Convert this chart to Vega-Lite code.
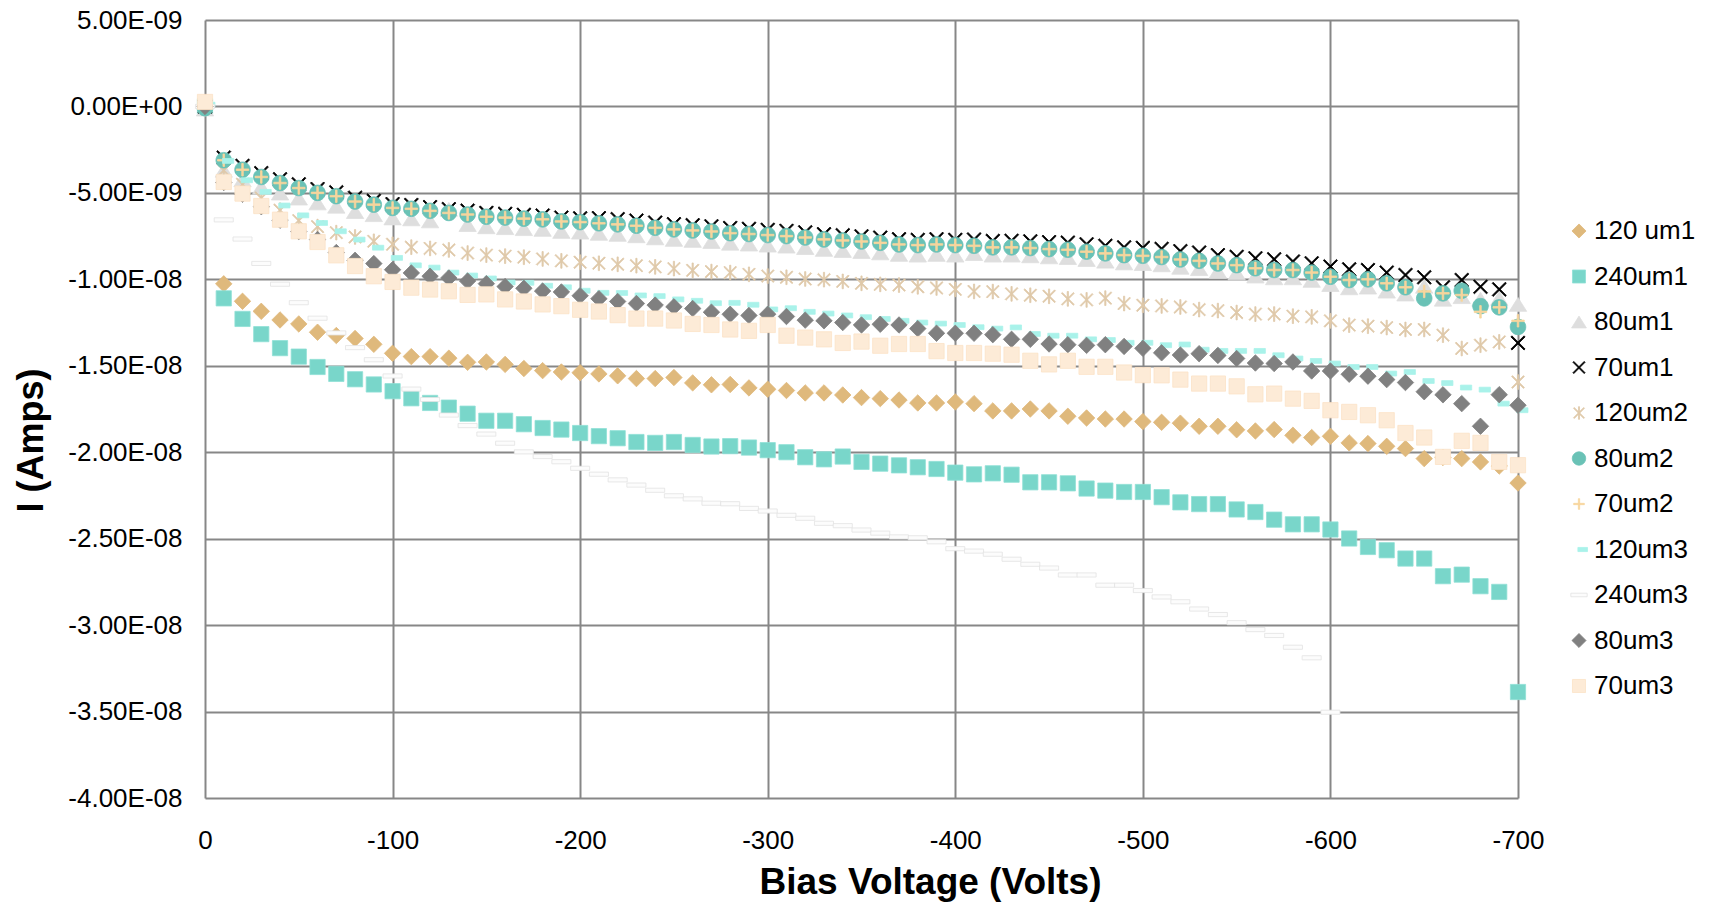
{
"$schema": "https://vega.github.io/schema/vega-lite/v6.json",
"width": 1313, "height": 778,
"autosize": {"type": "none"},
"padding": {"left": 205, "top": 20, "right": 195, "bottom": 104},
"background": "white",
"config": {"view": {"stroke": null}, "font": "Liberation Sans"},
"data": {"values": [
{"s":"120 um1","V":0,"I":0},{"s":"120 um1","V":-10,"I":-10.26e-9},{"s":"120 um1","V":-20,"I":-11.27e-9},{"s":"120 um1","V":-30,"I":-11.85e-9},{"s":"120 um1","V":-40,"I":-12.35e-9},{"s":"120 um1","V":-50,"I":-12.58e-9},{"s":"120 um1","V":-60,"I":-13.06e-9},{"s":"120 um1","V":-70,"I":-13.25e-9},{"s":"120 um1","V":-80,"I":-13.42e-9},{"s":"120 um1","V":-90,"I":-13.76e-9},{"s":"120 um1","V":-100,"I":-14.28e-9},{"s":"120 um1","V":-110,"I":-14.47e-9},{"s":"120 um1","V":-120,"I":-14.47e-9},{"s":"120 um1","V":-130,"I":-14.56e-9},{"s":"120 um1","V":-140,"I":-14.8e-9},{"s":"120 um1","V":-150,"I":-14.78e-9},{"s":"120 um1","V":-160,"I":-14.92e-9},{"s":"120 um1","V":-170,"I":-15.16e-9},{"s":"120 um1","V":-180,"I":-15.28e-9},{"s":"120 um1","V":-190,"I":-15.36e-9},{"s":"120 um1","V":-200,"I":-15.4e-9},{"s":"120 um1","V":-210,"I":-15.47e-9},{"s":"120 um1","V":-220,"I":-15.58e-9},{"s":"120 um1","V":-230,"I":-15.74e-9},{"s":"120 um1","V":-240,"I":-15.74e-9},{"s":"120 um1","V":-250,"I":-15.68e-9},{"s":"120 um1","V":-260,"I":-15.99e-9},{"s":"120 um1","V":-270,"I":-16.1e-9},{"s":"120 um1","V":-280,"I":-16.08e-9},{"s":"120 um1","V":-290,"I":-16.28e-9},{"s":"120 um1","V":-300,"I":-16.36e-9},{"s":"120 um1","V":-310,"I":-16.43e-9},{"s":"120 um1","V":-320,"I":-16.57e-9},{"s":"120 um1","V":-330,"I":-16.57e-9},{"s":"120 um1","V":-340,"I":-16.69e-9},{"s":"120 um1","V":-350,"I":-16.84e-9},{"s":"120 um1","V":-360,"I":-16.9e-9},{"s":"120 um1","V":-370,"I":-16.98e-9},{"s":"120 um1","V":-380,"I":-17.15e-9},{"s":"120 um1","V":-390,"I":-17.15e-9},{"s":"120 um1","V":-400,"I":-17.09e-9},{"s":"120 um1","V":-410,"I":-17.19e-9},{"s":"120 um1","V":-420,"I":-17.61e-9},{"s":"120 um1","V":-430,"I":-17.61e-9},{"s":"120 um1","V":-440,"I":-17.5e-9},{"s":"120 um1","V":-450,"I":-17.61e-9},{"s":"120 um1","V":-460,"I":-17.92e-9},{"s":"120 um1","V":-470,"I":-18.02e-9},{"s":"120 um1","V":-480,"I":-18.08e-9},{"s":"120 um1","V":-490,"I":-18.08e-9},{"s":"120 um1","V":-500,"I":-18.23e-9},{"s":"120 um1","V":-510,"I":-18.27e-9},{"s":"120 um1","V":-520,"I":-18.32e-9},{"s":"120 um1","V":-530,"I":-18.5e-9},{"s":"120 um1","V":-540,"I":-18.5e-9},{"s":"120 um1","V":-550,"I":-18.7e-9},{"s":"120 um1","V":-560,"I":-18.77e-9},{"s":"120 um1","V":-570,"I":-18.69e-9},{"s":"120 um1","V":-580,"I":-19.02e-9},{"s":"120 um1","V":-590,"I":-19.15e-9},{"s":"120 um1","V":-600,"I":-19.08e-9},{"s":"120 um1","V":-610,"I":-19.46e-9},{"s":"120 um1","V":-620,"I":-19.5e-9},{"s":"120 um1","V":-630,"I":-19.66e-9},{"s":"120 um1","V":-640,"I":-19.79e-9},{"s":"120 um1","V":-650,"I":-20.37e-9},{"s":"120 um1","V":-660,"I":-20.3e-9},{"s":"120 um1","V":-670,"I":-20.37e-9},{"s":"120 um1","V":-680,"I":-20.56e-9},{"s":"120 um1","V":-690,"I":-20.8e-9},{"s":"120 um1","V":-700,"I":-21.78e-9},
{"s":"240um1","V":0,"I":0},{"s":"240um1","V":-10,"I":-11.1e-9},{"s":"240um1","V":-20,"I":-12.29e-9},{"s":"240um1","V":-30,"I":-13.17e-9},{"s":"240um1","V":-40,"I":-13.98e-9},{"s":"240um1","V":-50,"I":-14.47e-9},{"s":"240um1","V":-60,"I":-15.07e-9},{"s":"240um1","V":-70,"I":-15.47e-9},{"s":"240um1","V":-80,"I":-15.78e-9},{"s":"240um1","V":-90,"I":-16.08e-9},{"s":"240um1","V":-100,"I":-16.47e-9},{"s":"240um1","V":-110,"I":-16.88e-9},{"s":"240um1","V":-120,"I":-17.15e-9},{"s":"240um1","V":-130,"I":-17.42e-9},{"s":"240um1","V":-140,"I":-17.77e-9},{"s":"240um1","V":-150,"I":-18.18e-9},{"s":"240um1","V":-160,"I":-18.18e-9},{"s":"240um1","V":-170,"I":-18.38e-9},{"s":"240um1","V":-180,"I":-18.6e-9},{"s":"240um1","V":-190,"I":-18.69e-9},{"s":"240um1","V":-200,"I":-18.89e-9},{"s":"240um1","V":-210,"I":-19.07e-9},{"s":"240um1","V":-220,"I":-19.19e-9},{"s":"240um1","V":-230,"I":-19.41e-9},{"s":"240um1","V":-240,"I":-19.46e-9},{"s":"240um1","V":-250,"I":-19.41e-9},{"s":"240um1","V":-260,"I":-19.58e-9},{"s":"240um1","V":-270,"I":-19.67e-9},{"s":"240um1","V":-280,"I":-19.65e-9},{"s":"240um1","V":-290,"I":-19.73e-9},{"s":"240um1","V":-300,"I":-19.88e-9},{"s":"240um1","V":-310,"I":-20.0e-9},{"s":"240um1","V":-320,"I":-20.29e-9},{"s":"240um1","V":-330,"I":-20.41e-9},{"s":"240um1","V":-340,"I":-20.25e-9},{"s":"240um1","V":-350,"I":-20.56e-9},{"s":"240um1","V":-360,"I":-20.66e-9},{"s":"240um1","V":-370,"I":-20.76e-9},{"s":"240um1","V":-380,"I":-20.87e-9},{"s":"240um1","V":-390,"I":-20.97e-9},{"s":"240um1","V":-400,"I":-21.18e-9},{"s":"240um1","V":-410,"I":-21.28e-9},{"s":"240um1","V":-420,"I":-21.22e-9},{"s":"240um1","V":-430,"I":-21.3e-9},{"s":"240um1","V":-440,"I":-21.74e-9},{"s":"240um1","V":-450,"I":-21.74e-9},{"s":"240um1","V":-460,"I":-21.8e-9},{"s":"240um1","V":-470,"I":-22.1e-9},{"s":"240um1","V":-480,"I":-22.22e-9},{"s":"240um1","V":-490,"I":-22.3e-9},{"s":"240um1","V":-500,"I":-22.3e-9},{"s":"240um1","V":-510,"I":-22.6e-9},{"s":"240um1","V":-520,"I":-22.9e-9},{"s":"240um1","V":-530,"I":-23.0e-9},{"s":"240um1","V":-540,"I":-23.0e-9},{"s":"240um1","V":-550,"I":-23.31e-9},{"s":"240um1","V":-560,"I":-23.46e-9},{"s":"240um1","V":-570,"I":-23.9e-9},{"s":"240um1","V":-580,"I":-24.17e-9},{"s":"240um1","V":-590,"I":-24.17e-9},{"s":"240um1","V":-600,"I":-24.47e-9},{"s":"240um1","V":-610,"I":-24.99e-9},{"s":"240um1","V":-620,"I":-25.48e-9},{"s":"240um1","V":-630,"I":-25.67e-9},{"s":"240um1","V":-640,"I":-26.15e-9},{"s":"240um1","V":-650,"I":-26.15e-9},{"s":"240um1","V":-660,"I":-27.17e-9},{"s":"240um1","V":-670,"I":-27.08e-9},{"s":"240um1","V":-680,"I":-27.75e-9},{"s":"240um1","V":-690,"I":-28.08e-9},{"s":"240um1","V":-700,"I":-33.87e-9},
{"s":"80um1","V":0,"I":-0.15e-9},{"s":"80um1","V":-10,"I":-3.69e-9},{"s":"80um1","V":-20,"I":-4.24e-9},{"s":"80um1","V":-30,"I":-4.66e-9},{"s":"80um1","V":-40,"I":-5.01e-9},{"s":"80um1","V":-50,"I":-5.3e-9},{"s":"80um1","V":-60,"I":-5.58e-9},{"s":"80um1","V":-70,"I":-5.77e-9},{"s":"80um1","V":-80,"I":-6.08e-9},{"s":"80um1","V":-90,"I":-6.26e-9},{"s":"80um1","V":-100,"I":-6.45e-9},{"s":"80um1","V":-110,"I":-6.5e-9},{"s":"80um1","V":-120,"I":-6.62e-9},{"s":"80um1","V":-130,"I":-5.95e-9},{"s":"80um1","V":-140,"I":-6.83e-9},{"s":"80um1","V":-150,"I":-6.96e-9},{"s":"80um1","V":-160,"I":-7.01e-9},{"s":"80um1","V":-170,"I":-7.07e-9},{"s":"80um1","V":-180,"I":-7.11e-9},{"s":"80um1","V":-190,"I":-7.23e-9},{"s":"80um1","V":-200,"I":-7.27e-9},{"s":"80um1","V":-210,"I":-7.34e-9},{"s":"80um1","V":-220,"I":-7.4e-9},{"s":"80um1","V":-230,"I":-7.48e-9},{"s":"80um1","V":-240,"I":-7.6e-9},{"s":"80um1","V":-250,"I":-7.69e-9},{"s":"80um1","V":-260,"I":-7.75e-9},{"s":"80um1","V":-270,"I":-7.81e-9},{"s":"80um1","V":-280,"I":-7.91e-9},{"s":"80um1","V":-290,"I":-7.96e-9},{"s":"80um1","V":-300,"I":-8.02e-9},{"s":"80um1","V":-310,"I":-8.08e-9},{"s":"80um1","V":-320,"I":-8.16e-9},{"s":"80um1","V":-330,"I":-8.27e-9},{"s":"80um1","V":-340,"I":-8.33e-9},{"s":"80um1","V":-350,"I":-8.39e-9},{"s":"80um1","V":-360,"I":-8.47e-9},{"s":"80um1","V":-370,"I":-8.56e-9},{"s":"80um1","V":-380,"I":-8.6e-9},{"s":"80um1","V":-390,"I":-8.56e-9},{"s":"80um1","V":-400,"I":-8.6e-9},{"s":"80um1","V":-410,"I":-8.51e-9},{"s":"80um1","V":-420,"I":-8.6e-9},{"s":"80um1","V":-430,"I":-8.6e-9},{"s":"80um1","V":-440,"I":-8.64e-9},{"s":"80um1","V":-450,"I":-8.7e-9},{"s":"80um1","V":-460,"I":-8.74e-9},{"s":"80um1","V":-470,"I":-8.85e-9},{"s":"80um1","V":-480,"I":-8.95e-9},{"s":"80um1","V":-490,"I":-9.05e-9},{"s":"80um1","V":-500,"I":-9.09e-9},{"s":"80um1","V":-510,"I":-9.16e-9},{"s":"80um1","V":-520,"I":-9.3e-9},{"s":"80um1","V":-530,"I":-9.38e-9},{"s":"80um1","V":-540,"I":-9.53e-9},{"s":"80um1","V":-550,"I":-9.63e-9},{"s":"80um1","V":-560,"I":-9.81e-9},{"s":"80um1","V":-570,"I":-9.91e-9},{"s":"80um1","V":-580,"I":-9.91e-9},{"s":"80um1","V":-590,"I":-10.06e-9},{"s":"80um1","V":-600,"I":-10.3e-9},{"s":"80um1","V":-610,"I":-10.49e-9},{"s":"80um1","V":-620,"I":-10.45e-9},{"s":"80um1","V":-630,"I":-10.68e-9},{"s":"80um1","V":-640,"I":-10.85e-9},{"s":"80um1","V":-650,"I":-10.4e-9},{"s":"80um1","V":-660,"I":-11.15e-9},{"s":"80um1","V":-670,"I":-11.0e-9},{"s":"80um1","V":-680,"I":-11.15e-9},{"s":"80um1","V":-690,"I":-11.1e-9},{"s":"80um1","V":-700,"I":-11.45e-9},
{"s":"70um1","V":0,"I":0},{"s":"70um1","V":-10,"I":-2.96e-9},{"s":"70um1","V":-20,"I":-3.44e-9},{"s":"70um1","V":-30,"I":-3.86e-9},{"s":"70um1","V":-40,"I":-4.21e-9},{"s":"70um1","V":-50,"I":-4.5e-9},{"s":"70um1","V":-60,"I":-4.78e-9},{"s":"70um1","V":-70,"I":-4.97e-9},{"s":"70um1","V":-80,"I":-5.28e-9},{"s":"70um1","V":-90,"I":-5.46e-9},{"s":"70um1","V":-100,"I":-5.65e-9},{"s":"70um1","V":-110,"I":-5.7e-9},{"s":"70um1","V":-120,"I":-5.82e-9},{"s":"70um1","V":-130,"I":-5.94e-9},{"s":"70um1","V":-140,"I":-6.03e-9},{"s":"70um1","V":-150,"I":-6.16e-9},{"s":"70um1","V":-160,"I":-6.21e-9},{"s":"70um1","V":-170,"I":-6.27e-9},{"s":"70um1","V":-180,"I":-6.31e-9},{"s":"70um1","V":-190,"I":-6.43e-9},{"s":"70um1","V":-200,"I":-6.47e-9},{"s":"70um1","V":-210,"I":-6.46e-9},{"s":"70um1","V":-220,"I":-6.52e-9},{"s":"70um1","V":-230,"I":-6.6e-9},{"s":"70um1","V":-240,"I":-6.72e-9},{"s":"70um1","V":-250,"I":-6.81e-9},{"s":"70um1","V":-260,"I":-6.87e-9},{"s":"70um1","V":-270,"I":-6.93e-9},{"s":"70um1","V":-280,"I":-7.03e-9},{"s":"70um1","V":-290,"I":-7.08e-9},{"s":"70um1","V":-300,"I":-7.14e-9},{"s":"70um1","V":-310,"I":-7.2e-9},{"s":"70um1","V":-320,"I":-7.28e-9},{"s":"70um1","V":-330,"I":-7.39e-9},{"s":"70um1","V":-340,"I":-7.45e-9},{"s":"70um1","V":-350,"I":-7.51e-9},{"s":"70um1","V":-360,"I":-7.59e-9},{"s":"70um1","V":-370,"I":-7.68e-9},{"s":"70um1","V":-380,"I":-7.72e-9},{"s":"70um1","V":-390,"I":-7.68e-9},{"s":"70um1","V":-400,"I":-7.72e-9},{"s":"70um1","V":-410,"I":-7.7e-9},{"s":"70um1","V":-420,"I":-7.78e-9},{"s":"70um1","V":-430,"I":-7.77e-9},{"s":"70um1","V":-440,"I":-7.8e-9},{"s":"70um1","V":-450,"I":-7.85e-9},{"s":"70um1","V":-460,"I":-7.88e-9},{"s":"70um1","V":-470,"I":-7.97e-9},{"s":"70um1","V":-480,"I":-8.06e-9},{"s":"70um1","V":-490,"I":-8.15e-9},{"s":"70um1","V":-500,"I":-8.18e-9},{"s":"70um1","V":-510,"I":-8.24e-9},{"s":"70um1","V":-520,"I":-8.37e-9},{"s":"70um1","V":-530,"I":-8.45e-9},{"s":"70um1","V":-540,"I":-8.6e-9},{"s":"70um1","V":-550,"I":-8.7e-9},{"s":"70um1","V":-560,"I":-8.78e-9},{"s":"70um1","V":-570,"I":-8.84e-9},{"s":"70um1","V":-580,"I":-8.97e-9},{"s":"70um1","V":-590,"I":-9.07e-9},{"s":"70um1","V":-600,"I":-9.26e-9},{"s":"70um1","V":-610,"I":-9.42e-9},{"s":"70um1","V":-620,"I":-9.46e-9},{"s":"70um1","V":-630,"I":-9.61e-9},{"s":"70um1","V":-640,"I":-9.75e-9},{"s":"70um1","V":-650,"I":-9.88e-9},{"s":"70um1","V":-660,"I":-10.46e-9},{"s":"70um1","V":-670,"I":-10.04e-9},{"s":"70um1","V":-680,"I":-10.43e-9},{"s":"70um1","V":-690,"I":-10.58e-9},{"s":"70um1","V":-700,"I":-13.68e-9},
{"s":"120um2","V":0,"I":0},{"s":"120um2","V":-10,"I":-3.7e-9},{"s":"120um2","V":-20,"I":-4.5e-9},{"s":"120um2","V":-30,"I":-5.3e-9},{"s":"120um2","V":-40,"I":-6.0e-9},{"s":"120um2","V":-50,"I":-6.6e-9},{"s":"120um2","V":-60,"I":-6.95e-9},{"s":"120um2","V":-70,"I":-7.3e-9},{"s":"120um2","V":-80,"I":-7.55e-9},{"s":"120um2","V":-90,"I":-7.8e-9},{"s":"120um2","V":-100,"I":-7.97e-9},{"s":"120um2","V":-110,"I":-8.14e-9},{"s":"120um2","V":-120,"I":-8.21e-9},{"s":"120um2","V":-130,"I":-8.3e-9},{"s":"120um2","V":-140,"I":-8.48e-9},{"s":"120um2","V":-150,"I":-8.6e-9},{"s":"120um2","V":-160,"I":-8.66e-9},{"s":"120um2","V":-170,"I":-8.72e-9},{"s":"120um2","V":-180,"I":-8.82e-9},{"s":"120um2","V":-190,"I":-8.93e-9},{"s":"120um2","V":-200,"I":-9.01e-9},{"s":"120um2","V":-210,"I":-9.07e-9},{"s":"120um2","V":-220,"I":-9.13e-9},{"s":"120um2","V":-230,"I":-9.21e-9},{"s":"120um2","V":-240,"I":-9.28e-9},{"s":"120um2","V":-250,"I":-9.38e-9},{"s":"120um2","V":-260,"I":-9.48e-9},{"s":"120um2","V":-270,"I":-9.55e-9},{"s":"120um2","V":-280,"I":-9.61e-9},{"s":"120um2","V":-290,"I":-9.71e-9},{"s":"120um2","V":-300,"I":-9.81e-9},{"s":"120um2","V":-310,"I":-9.88e-9},{"s":"120um2","V":-320,"I":-9.98e-9},{"s":"120um2","V":-330,"I":-10.02e-9},{"s":"120um2","V":-340,"I":-10.12e-9},{"s":"120um2","V":-350,"I":-10.23e-9},{"s":"120um2","V":-360,"I":-10.29e-9},{"s":"120um2","V":-370,"I":-10.33e-9},{"s":"120um2","V":-380,"I":-10.43e-9},{"s":"120um2","V":-390,"I":-10.5e-9},{"s":"120um2","V":-400,"I":-10.58e-9},{"s":"120um2","V":-410,"I":-10.7e-9},{"s":"120um2","V":-420,"I":-10.71e-9},{"s":"120um2","V":-430,"I":-10.84e-9},{"s":"120um2","V":-440,"I":-10.92e-9},{"s":"120um2","V":-450,"I":-10.98e-9},{"s":"120um2","V":-460,"I":-11.13e-9},{"s":"120um2","V":-470,"I":-11.19e-9},{"s":"120um2","V":-480,"I":-11.09e-9},{"s":"120um2","V":-490,"I":-11.4e-9},{"s":"120um2","V":-500,"I":-11.5e-9},{"s":"120um2","V":-510,"I":-11.54e-9},{"s":"120um2","V":-520,"I":-11.6e-9},{"s":"120um2","V":-530,"I":-11.75e-9},{"s":"120um2","V":-540,"I":-11.81e-9},{"s":"120um2","V":-550,"I":-11.92e-9},{"s":"120um2","V":-560,"I":-12.01e-9},{"s":"120um2","V":-570,"I":-12.01e-9},{"s":"120um2","V":-580,"I":-12.13e-9},{"s":"120um2","V":-590,"I":-12.17e-9},{"s":"120um2","V":-600,"I":-12.4e-9},{"s":"120um2","V":-610,"I":-12.65e-9},{"s":"120um2","V":-620,"I":-12.71e-9},{"s":"120um2","V":-630,"I":-12.79e-9},{"s":"120um2","V":-640,"I":-12.9e-9},{"s":"120um2","V":-650,"I":-12.9e-9},{"s":"120um2","V":-660,"I":-13.23e-9},{"s":"120um2","V":-670,"I":-14.0e-9},{"s":"120um2","V":-680,"I":-13.81e-9},{"s":"120um2","V":-690,"I":-13.62e-9},{"s":"120um2","V":-700,"I":-15.94e-9},
{"s":"80um2","V":0,"I":-0.1e-9},{"s":"80um2","V":-10,"I":-3.11e-9},{"s":"80um2","V":-20,"I":-3.66e-9},{"s":"80um2","V":-30,"I":-4.08e-9},{"s":"80um2","V":-40,"I":-4.43e-9},{"s":"80um2","V":-50,"I":-4.72e-9},{"s":"80um2","V":-60,"I":-5.0e-9},{"s":"80um2","V":-70,"I":-5.19e-9},{"s":"80um2","V":-80,"I":-5.5e-9},{"s":"80um2","V":-90,"I":-5.68e-9},{"s":"80um2","V":-100,"I":-5.87e-9},{"s":"80um2","V":-110,"I":-5.92e-9},{"s":"80um2","V":-120,"I":-6.04e-9},{"s":"80um2","V":-130,"I":-6.16e-9},{"s":"80um2","V":-140,"I":-6.25e-9},{"s":"80um2","V":-150,"I":-6.38e-9},{"s":"80um2","V":-160,"I":-6.43e-9},{"s":"80um2","V":-170,"I":-6.49e-9},{"s":"80um2","V":-180,"I":-6.53e-9},{"s":"80um2","V":-190,"I":-6.65e-9},{"s":"80um2","V":-200,"I":-6.69e-9},{"s":"80um2","V":-210,"I":-6.76e-9},{"s":"80um2","V":-220,"I":-6.82e-9},{"s":"80um2","V":-230,"I":-6.9e-9},{"s":"80um2","V":-240,"I":-7.02e-9},{"s":"80um2","V":-250,"I":-7.11e-9},{"s":"80um2","V":-260,"I":-7.17e-9},{"s":"80um2","V":-270,"I":-7.23e-9},{"s":"80um2","V":-280,"I":-7.33e-9},{"s":"80um2","V":-290,"I":-7.38e-9},{"s":"80um2","V":-300,"I":-7.44e-9},{"s":"80um2","V":-310,"I":-7.5e-9},{"s":"80um2","V":-320,"I":-7.58e-9},{"s":"80um2","V":-330,"I":-7.69e-9},{"s":"80um2","V":-340,"I":-7.75e-9},{"s":"80um2","V":-350,"I":-7.81e-9},{"s":"80um2","V":-360,"I":-7.89e-9},{"s":"80um2","V":-370,"I":-7.98e-9},{"s":"80um2","V":-380,"I":-8.02e-9},{"s":"80um2","V":-390,"I":-7.98e-9},{"s":"80um2","V":-400,"I":-8.02e-9},{"s":"80um2","V":-410,"I":-8.06e-9},{"s":"80um2","V":-420,"I":-8.15e-9},{"s":"80um2","V":-430,"I":-8.15e-9},{"s":"80um2","V":-440,"I":-8.19e-9},{"s":"80um2","V":-450,"I":-8.25e-9},{"s":"80um2","V":-460,"I":-8.29e-9},{"s":"80um2","V":-470,"I":-8.4e-9},{"s":"80um2","V":-480,"I":-8.5e-9},{"s":"80um2","V":-490,"I":-8.6e-9},{"s":"80um2","V":-500,"I":-8.64e-9},{"s":"80um2","V":-510,"I":-8.71e-9},{"s":"80um2","V":-520,"I":-8.85e-9},{"s":"80um2","V":-530,"I":-8.93e-9},{"s":"80um2","V":-540,"I":-9.08e-9},{"s":"80um2","V":-550,"I":-9.18e-9},{"s":"80um2","V":-560,"I":-9.36e-9},{"s":"80um2","V":-570,"I":-9.46e-9},{"s":"80um2","V":-580,"I":-9.46e-9},{"s":"80um2","V":-590,"I":-9.61e-9},{"s":"80um2","V":-600,"I":-9.85e-9},{"s":"80um2","V":-610,"I":-10.04e-9},{"s":"80um2","V":-620,"I":-10.0e-9},{"s":"80um2","V":-630,"I":-10.23e-9},{"s":"80um2","V":-640,"I":-10.46e-9},{"s":"80um2","V":-650,"I":-11.1e-9},{"s":"80um2","V":-660,"I":-10.81e-9},{"s":"80um2","V":-670,"I":-10.66e-9},{"s":"80um2","V":-680,"I":-11.55e-9},{"s":"80um2","V":-690,"I":-11.62e-9},{"s":"80um2","V":-700,"I":-12.75e-9},
{"s":"70um2","V":0,"I":0},{"s":"70um2","V":-10,"I":-3.11e-9},{"s":"70um2","V":-20,"I":-3.66e-9},{"s":"70um2","V":-30,"I":-4.08e-9},{"s":"70um2","V":-40,"I":-4.43e-9},{"s":"70um2","V":-50,"I":-4.72e-9},{"s":"70um2","V":-60,"I":-5.0e-9},{"s":"70um2","V":-70,"I":-5.19e-9},{"s":"70um2","V":-80,"I":-5.5e-9},{"s":"70um2","V":-90,"I":-5.68e-9},{"s":"70um2","V":-100,"I":-5.87e-9},{"s":"70um2","V":-110,"I":-5.92e-9},{"s":"70um2","V":-120,"I":-6.04e-9},{"s":"70um2","V":-130,"I":-6.16e-9},{"s":"70um2","V":-140,"I":-6.25e-9},{"s":"70um2","V":-150,"I":-6.38e-9},{"s":"70um2","V":-160,"I":-6.43e-9},{"s":"70um2","V":-170,"I":-6.49e-9},{"s":"70um2","V":-180,"I":-6.53e-9},{"s":"70um2","V":-190,"I":-6.65e-9},{"s":"70um2","V":-200,"I":-6.69e-9},{"s":"70um2","V":-210,"I":-6.76e-9},{"s":"70um2","V":-220,"I":-6.82e-9},{"s":"70um2","V":-230,"I":-6.9e-9},{"s":"70um2","V":-240,"I":-7.02e-9},{"s":"70um2","V":-250,"I":-7.11e-9},{"s":"70um2","V":-260,"I":-7.17e-9},{"s":"70um2","V":-270,"I":-7.23e-9},{"s":"70um2","V":-280,"I":-7.33e-9},{"s":"70um2","V":-290,"I":-7.38e-9},{"s":"70um2","V":-300,"I":-7.44e-9},{"s":"70um2","V":-310,"I":-7.5e-9},{"s":"70um2","V":-320,"I":-7.58e-9},{"s":"70um2","V":-330,"I":-7.69e-9},{"s":"70um2","V":-340,"I":-7.75e-9},{"s":"70um2","V":-350,"I":-7.81e-9},{"s":"70um2","V":-360,"I":-7.89e-9},{"s":"70um2","V":-370,"I":-7.98e-9},{"s":"70um2","V":-380,"I":-8.02e-9},{"s":"70um2","V":-390,"I":-7.98e-9},{"s":"70um2","V":-400,"I":-8.02e-9},{"s":"70um2","V":-410,"I":-8.06e-9},{"s":"70um2","V":-420,"I":-8.15e-9},{"s":"70um2","V":-430,"I":-8.15e-9},{"s":"70um2","V":-440,"I":-8.19e-9},{"s":"70um2","V":-450,"I":-8.25e-9},{"s":"70um2","V":-460,"I":-8.29e-9},{"s":"70um2","V":-470,"I":-8.4e-9},{"s":"70um2","V":-480,"I":-8.5e-9},{"s":"70um2","V":-490,"I":-8.6e-9},{"s":"70um2","V":-500,"I":-8.64e-9},{"s":"70um2","V":-510,"I":-8.71e-9},{"s":"70um2","V":-520,"I":-8.85e-9},{"s":"70um2","V":-530,"I":-8.93e-9},{"s":"70um2","V":-540,"I":-9.08e-9},{"s":"70um2","V":-550,"I":-9.18e-9},{"s":"70um2","V":-560,"I":-9.36e-9},{"s":"70um2","V":-570,"I":-9.46e-9},{"s":"70um2","V":-580,"I":-9.46e-9},{"s":"70um2","V":-590,"I":-9.61e-9},{"s":"70um2","V":-600,"I":-9.85e-9},{"s":"70um2","V":-610,"I":-10.04e-9},{"s":"70um2","V":-620,"I":-10.0e-9},{"s":"70um2","V":-630,"I":-10.23e-9},{"s":"70um2","V":-640,"I":-10.46e-9},{"s":"70um2","V":-650,"I":-10.7e-9},{"s":"70um2","V":-660,"I":-10.81e-9},{"s":"70um2","V":-670,"I":-10.91e-9},{"s":"70um2","V":-680,"I":-11.88e-9},{"s":"70um2","V":-690,"I":-11.62e-9},{"s":"70um2","V":-700,"I":-12.4e-9},
{"s":"120um3","V":0,"I":0.1e-9},{"s":"120um3","V":-10,"I":-3.15e-9},{"s":"120um3","V":-20,"I":-4.27e-9},{"s":"120um3","V":-30,"I":-4.94e-9},{"s":"120um3","V":-40,"I":-5.73e-9},{"s":"120um3","V":-50,"I":-6.3e-9},{"s":"120um3","V":-60,"I":-6.74e-9},{"s":"120um3","V":-70,"I":-7.22e-9},{"s":"120um3","V":-80,"I":-7.7e-9},{"s":"120um3","V":-90,"I":-8.17e-9},{"s":"120um3","V":-100,"I":-8.76e-9},{"s":"120um3","V":-110,"I":-9.19e-9},{"s":"120um3","V":-120,"I":-9.32e-9},{"s":"120um3","V":-130,"I":-9.61e-9},{"s":"120um3","V":-140,"I":-9.78e-9},{"s":"120um3","V":-150,"I":-9.95e-9},{"s":"120um3","V":-160,"I":-10.18e-9},{"s":"120um3","V":-170,"I":-10.2e-9},{"s":"120um3","V":-180,"I":-10.37e-9},{"s":"120um3","V":-190,"I":-10.46e-9},{"s":"120um3","V":-200,"I":-10.66e-9},{"s":"120um3","V":-210,"I":-10.78e-9},{"s":"120um3","V":-220,"I":-10.79e-9},{"s":"120um3","V":-230,"I":-10.93e-9},{"s":"120um3","V":-240,"I":-10.97e-9},{"s":"120um3","V":-250,"I":-11.16e-9},{"s":"120um3","V":-260,"I":-11.24e-9},{"s":"120um3","V":-270,"I":-11.38e-9},{"s":"120um3","V":-280,"I":-11.36e-9},{"s":"120um3","V":-290,"I":-11.47e-9},{"s":"120um3","V":-300,"I":-11.74e-9},{"s":"120um3","V":-310,"I":-11.67e-9},{"s":"120um3","V":-320,"I":-11.88e-9},{"s":"120um3","V":-330,"I":-11.98e-9},{"s":"120um3","V":-340,"I":-12.09e-9},{"s":"120um3","V":-350,"I":-12.19e-9},{"s":"120um3","V":-360,"I":-12.29e-9},{"s":"120um3","V":-370,"I":-12.4e-9},{"s":"120um3","V":-380,"I":-12.5e-9},{"s":"120um3","V":-390,"I":-12.56e-9},{"s":"120um3","V":-400,"I":-12.64e-9},{"s":"120um3","V":-410,"I":-12.77e-9},{"s":"120um3","V":-420,"I":-12.85e-9},{"s":"120um3","V":-430,"I":-12.78e-9},{"s":"120um3","V":-440,"I":-13.16e-9},{"s":"120um3","V":-450,"I":-13.26e-9},{"s":"120um3","V":-460,"I":-13.26e-9},{"s":"120um3","V":-470,"I":-13.47e-9},{"s":"120um3","V":-480,"I":-13.51e-9},{"s":"120um3","V":-490,"I":-13.67e-9},{"s":"120um3","V":-500,"I":-13.67e-9},{"s":"120um3","V":-510,"I":-13.81e-9},{"s":"120um3","V":-520,"I":-13.77e-9},{"s":"120um3","V":-530,"I":-14.07e-9},{"s":"120um3","V":-540,"I":-14.14e-9},{"s":"120um3","V":-550,"I":-14.14e-9},{"s":"120um3","V":-560,"I":-14.14e-9},{"s":"120um3","V":-570,"I":-14.39e-9},{"s":"120um3","V":-580,"I":-14.58e-9},{"s":"120um3","V":-590,"I":-14.72e-9},{"s":"120um3","V":-600,"I":-14.87e-9},{"s":"120um3","V":-610,"I":-15.07e-9},{"s":"120um3","V":-620,"I":-15.07e-9},{"s":"120um3","V":-630,"I":-15.45e-9},{"s":"120um3","V":-640,"I":-15.36e-9},{"s":"120um3","V":-650,"I":-15.88e-9},{"s":"120um3","V":-660,"I":-16.0e-9},{"s":"120um3","V":-670,"I":-16.26e-9},{"s":"120um3","V":-680,"I":-16.38e-9},{"s":"120um3","V":-690,"I":-17.19e-9},{"s":"120um3","V":-700,"I":-17.57e-9},
{"s":"240um3","V":0,"I":0},{"s":"240um3","V":-10,"I":-6.56e-9},{"s":"240um3","V":-20,"I":-7.67e-9},{"s":"240um3","V":-30,"I":-9.08e-9},{"s":"240um3","V":-40,"I":-10.28e-9},{"s":"240um3","V":-50,"I":-11.35e-9},{"s":"240um3","V":-60,"I":-12.25e-9},{"s":"240um3","V":-70,"I":-13.1e-9},{"s":"240um3","V":-80,"I":-13.95e-9},{"s":"240um3","V":-90,"I":-14.65e-9},{"s":"240um3","V":-100,"I":-15.59e-9},{"s":"240um3","V":-110,"I":-16.35e-9},{"s":"240um3","V":-120,"I":-16.95e-9},{"s":"240um3","V":-130,"I":-17.85e-9},{"s":"240um3","V":-140,"I":-18.46e-9},{"s":"240um3","V":-150,"I":-18.95e-9},{"s":"240um3","V":-160,"I":-19.48e-9},{"s":"240um3","V":-170,"I":-19.98e-9},{"s":"240um3","V":-180,"I":-20.25e-9},{"s":"240um3","V":-190,"I":-20.55e-9},{"s":"240um3","V":-200,"I":-20.93e-9},{"s":"240um3","V":-210,"I":-21.27e-9},{"s":"240um3","V":-220,"I":-21.6e-9},{"s":"240um3","V":-230,"I":-21.9e-9},{"s":"240um3","V":-240,"I":-22.2e-9},{"s":"240um3","V":-250,"I":-22.52e-9},{"s":"240um3","V":-260,"I":-22.7e-9},{"s":"240um3","V":-270,"I":-22.95e-9},{"s":"240um3","V":-280,"I":-22.98e-9},{"s":"240um3","V":-290,"I":-23.25e-9},{"s":"240um3","V":-300,"I":-23.4e-9},{"s":"240um3","V":-310,"I":-23.65e-9},{"s":"240um3","V":-320,"I":-23.82e-9},{"s":"240um3","V":-330,"I":-24.11e-9},{"s":"240um3","V":-340,"I":-24.25e-9},{"s":"240um3","V":-350,"I":-24.5e-9},{"s":"240um3","V":-360,"I":-24.68e-9},{"s":"240um3","V":-370,"I":-24.9e-9},{"s":"240um3","V":-380,"I":-24.95e-9},{"s":"240um3","V":-390,"I":-25.18e-9},{"s":"240um3","V":-400,"I":-25.58e-9},{"s":"240um3","V":-410,"I":-25.72e-9},{"s":"240um3","V":-420,"I":-25.9e-9},{"s":"240um3","V":-430,"I":-26.19e-9},{"s":"240um3","V":-440,"I":-26.48e-9},{"s":"240um3","V":-450,"I":-26.7e-9},{"s":"240um3","V":-460,"I":-27.1e-9},{"s":"240um3","V":-470,"I":-27.1e-9},{"s":"240um3","V":-480,"I":-27.69e-9},{"s":"240um3","V":-490,"I":-27.69e-9},{"s":"240um3","V":-500,"I":-28.0e-9},{"s":"240um3","V":-510,"I":-28.37e-9},{"s":"240um3","V":-520,"I":-28.65e-9},{"s":"240um3","V":-530,"I":-29.07e-9},{"s":"240um3","V":-540,"I":-29.39e-9},{"s":"240um3","V":-550,"I":-29.86e-9},{"s":"240um3","V":-560,"I":-30.26e-9},{"s":"240um3","V":-570,"I":-30.6e-9},{"s":"240um3","V":-580,"I":-31.28e-9},{"s":"240um3","V":-590,"I":-31.89e-9},{"s":"240um3","V":-600,"I":-35.04e-9},
{"s":"80um3","V":0,"I":0},{"s":"80um3","V":-10,"I":-4.4e-9},{"s":"80um3","V":-20,"I":-5.08e-9},{"s":"80um3","V":-30,"I":-5.8e-9},{"s":"80um3","V":-40,"I":-6.58e-9},{"s":"80um3","V":-50,"I":-7.24e-9},{"s":"80um3","V":-60,"I":-7.7e-9},{"s":"80um3","V":-70,"I":-8.45e-9},{"s":"80um3","V":-80,"I":-8.9e-9},{"s":"80um3","V":-90,"I":-9.09e-9},{"s":"80um3","V":-100,"I":-9.44e-9},{"s":"80um3","V":-110,"I":-9.63e-9},{"s":"80um3","V":-120,"I":-9.82e-9},{"s":"80um3","V":-130,"I":-9.92e-9},{"s":"80um3","V":-140,"I":-10.1e-9},{"s":"80um3","V":-150,"I":-10.25e-9},{"s":"80um3","V":-160,"I":-10.42e-9},{"s":"80um3","V":-170,"I":-10.52e-9},{"s":"80um3","V":-180,"I":-10.68e-9},{"s":"80um3","V":-190,"I":-10.73e-9},{"s":"80um3","V":-200,"I":-10.95e-9},{"s":"80um3","V":-210,"I":-11.12e-9},{"s":"80um3","V":-220,"I":-11.28e-9},{"s":"80um3","V":-230,"I":-11.4e-9},{"s":"80um3","V":-240,"I":-11.49e-9},{"s":"80um3","V":-250,"I":-11.59e-9},{"s":"80um3","V":-260,"I":-11.69e-9},{"s":"80um3","V":-270,"I":-11.9e-9},{"s":"80um3","V":-280,"I":-12.02e-9},{"s":"80um3","V":-290,"I":-12.09e-9},{"s":"80um3","V":-300,"I":-12.02e-9},{"s":"80um3","V":-310,"I":-12.15e-9},{"s":"80um3","V":-320,"I":-12.36e-9},{"s":"80um3","V":-330,"I":-12.4e-9},{"s":"80um3","V":-340,"I":-12.5e-9},{"s":"80um3","V":-350,"I":-12.64e-9},{"s":"80um3","V":-360,"I":-12.6e-9},{"s":"80um3","V":-370,"I":-12.64e-9},{"s":"80um3","V":-380,"I":-12.85e-9},{"s":"80um3","V":-390,"I":-13.12e-9},{"s":"80um3","V":-400,"I":-13.12e-9},{"s":"80um3","V":-410,"I":-13.12e-9},{"s":"80um3","V":-420,"I":-13.2e-9},{"s":"80um3","V":-430,"I":-13.47e-9},{"s":"80um3","V":-440,"I":-13.47e-9},{"s":"80um3","V":-450,"I":-13.74e-9},{"s":"80um3","V":-460,"I":-13.78e-9},{"s":"80um3","V":-470,"I":-13.82e-9},{"s":"80um3","V":-480,"I":-13.78e-9},{"s":"80um3","V":-490,"I":-13.88e-9},{"s":"80um3","V":-500,"I":-13.99e-9},{"s":"80um3","V":-510,"I":-14.25e-9},{"s":"80um3","V":-520,"I":-14.38e-9},{"s":"80um3","V":-530,"I":-14.3e-9},{"s":"80um3","V":-540,"I":-14.4e-9},{"s":"80um3","V":-550,"I":-14.58e-9},{"s":"80um3","V":-560,"I":-14.84e-9},{"s":"80um3","V":-570,"I":-14.87e-9},{"s":"80um3","V":-580,"I":-14.78e-9},{"s":"80um3","V":-590,"I":-15.3e-9},{"s":"80um3","V":-600,"I":-15.3e-9},{"s":"80um3","V":-610,"I":-15.49e-9},{"s":"80um3","V":-620,"I":-15.6e-9},{"s":"80um3","V":-630,"I":-15.8e-9},{"s":"80um3","V":-640,"I":-15.97e-9},{"s":"80um3","V":-650,"I":-16.5e-9},{"s":"80um3","V":-660,"I":-16.68e-9},{"s":"80um3","V":-670,"I":-17.19e-9},{"s":"80um3","V":-680,"I":-18.5e-9},{"s":"80um3","V":-690,"I":-16.67e-9},{"s":"80um3","V":-700,"I":-17.28e-9},
{"s":"70um3","V":0,"I":0.26e-9},{"s":"70um3","V":-10,"I":-4.37e-9},{"s":"70um3","V":-20,"I":-5.04e-9},{"s":"70um3","V":-30,"I":-5.76e-9},{"s":"70um3","V":-40,"I":-6.55e-9},{"s":"70um3","V":-50,"I":-7.22e-9},{"s":"70um3","V":-60,"I":-7.84e-9},{"s":"70um3","V":-70,"I":-8.61e-9},{"s":"70um3","V":-80,"I":-9.23e-9},{"s":"70um3","V":-90,"I":-9.82e-9},{"s":"70um3","V":-100,"I":-10.15e-9},{"s":"70um3","V":-110,"I":-10.48e-9},{"s":"70um3","V":-120,"I":-10.59e-9},{"s":"70um3","V":-130,"I":-10.69e-9},{"s":"70um3","V":-140,"I":-10.9e-9},{"s":"70um3","V":-150,"I":-10.87e-9},{"s":"70um3","V":-160,"I":-11.16e-9},{"s":"70um3","V":-170,"I":-11.28e-9},{"s":"70um3","V":-180,"I":-11.45e-9},{"s":"70um3","V":-190,"I":-11.55e-9},{"s":"70um3","V":-200,"I":-11.76e-9},{"s":"70um3","V":-210,"I":-11.86e-9},{"s":"70um3","V":-220,"I":-12.07e-9},{"s":"70um3","V":-230,"I":-12.27e-9},{"s":"70um3","V":-240,"I":-12.27e-9},{"s":"70um3","V":-250,"I":-12.38e-9},{"s":"70um3","V":-260,"I":-12.58e-9},{"s":"70um3","V":-270,"I":-12.64e-9},{"s":"70um3","V":-280,"I":-12.9e-9},{"s":"70um3","V":-290,"I":-12.98e-9},{"s":"70um3","V":-300,"I":-12.64e-9},{"s":"70um3","V":-310,"I":-13.26e-9},{"s":"70um3","V":-320,"I":-13.37e-9},{"s":"70um3","V":-330,"I":-13.47e-9},{"s":"70um3","V":-340,"I":-13.68e-9},{"s":"70um3","V":-350,"I":-13.6e-9},{"s":"70um3","V":-360,"I":-13.84e-9},{"s":"70um3","V":-370,"I":-13.74e-9},{"s":"70um3","V":-380,"I":-13.74e-9},{"s":"70um3","V":-390,"I":-14.15e-9},{"s":"70um3","V":-400,"I":-14.26e-9},{"s":"70um3","V":-410,"I":-14.26e-9},{"s":"70um3","V":-420,"I":-14.3e-9},{"s":"70um3","V":-430,"I":-14.36e-9},{"s":"70um3","V":-440,"I":-14.71e-9},{"s":"70um3","V":-450,"I":-14.92e-9},{"s":"70um3","V":-460,"I":-14.71e-9},{"s":"70um3","V":-470,"I":-15.06e-9},{"s":"70um3","V":-480,"I":-15.06e-9},{"s":"70um3","V":-490,"I":-15.39e-9},{"s":"70um3","V":-500,"I":-15.54e-9},{"s":"70um3","V":-510,"I":-15.55e-9},{"s":"70um3","V":-520,"I":-15.8e-9},{"s":"70um3","V":-530,"I":-16.03e-9},{"s":"70um3","V":-540,"I":-16.03e-9},{"s":"70um3","V":-550,"I":-16.19e-9},{"s":"70um3","V":-560,"I":-16.65e-9},{"s":"70um3","V":-570,"I":-16.61e-9},{"s":"70um3","V":-580,"I":-16.9e-9},{"s":"70um3","V":-590,"I":-17.03e-9},{"s":"70um3","V":-600,"I":-17.57e-9},{"s":"70um3","V":-610,"I":-17.67e-9},{"s":"70um3","V":-620,"I":-17.86e-9},{"s":"70um3","V":-630,"I":-18.15e-9},{"s":"70um3","V":-640,"I":-18.89e-9},{"s":"70um3","V":-650,"I":-19.15e-9},{"s":"70um3","V":-660,"I":-20.27e-9},{"s":"70um3","V":-670,"I":-19.34e-9},{"s":"70um3","V":-680,"I":-19.46e-9},{"s":"70um3","V":-690,"I":-20.56e-9},{"s":"70um3","V":-700,"I":-20.75e-9}
]},
"mark": {"type": "point", "filled": true, "opacity": 1, "size": 300, "strokeWidth": 0.8},
"encoding": {
"x": {"field": "V", "type": "quantitative",
 "scale": {"domain": [-700, 0], "reverse": true, "nice": false, "zero": false},
 "axis": {"title": "Bias Voltage (Volts)", "values": [0,-100,-200,-300,-400,-500,-600,-700],
  "labelExpr": "'' + datum.value", "grid": true, "gridColor": "#878787", "gridWidth": 2,
  "domain": false, "ticks": false, "labelFlush": false, "labelOverlap": false,
  "labelFont": "Liberation Sans", "labelFontSize": 26, "labelColor": "#000000",
  "labelBaseline": "alphabetic", "labelPadding": 50,
  "titleFont": "Liberation Sans", "titleFontSize": 37, "titleFontWeight": "bold", "titleColor": "#000000",
  "titleBaseline": "alphabetic", "titleAlign": "center", "titleAnchor": "start", "titleX": 725, "titleY": 95}},
"y": {"field": "I", "type": "quantitative",
 "scale": {"domain": [-4e-8, 5e-9], "nice": false, "zero": false},
 "axis": {"title": "I (Amps)", "values": [5e-9,0,-5e-9,-1e-8,-1.5e-8,-2e-8,-2.5e-8,-3e-8,-3.5e-8,-4e-8],
  "labelExpr": "replace(replace(replace(upper(format(datum.value, '.2e')), '\u2212', '-'), regexp('E-([0-9])$'), 'E-0$1'), regexp('E[+]([0-9])$'), 'E+0$1')",
  "grid": true, "gridColor": "#878787", "gridWidth": 2,
  "domain": false, "ticks": false, "labelFlush": false, "labelOverlap": false,
  "labelFont": "Liberation Sans", "labelFontSize": 26, "labelColor": "#000000", "labelPadding": 23,
  "titleFont": "Liberation Sans", "titleFontSize": 36, "titleFontWeight": "bold", "titleColor": "#000000",
  "titleBaseline": "alphabetic", "titleX": -163, "titleY": 420}},
"fill": {"field": "s", "type": "nominal",
 "scale": {"domain": ["120 um1","240um1","80um1","70um1","120um2","80um2","70um2","120um3","240um3","80um3","70um3"],
  "range": ["#DFB97C","#79D6CA","#DEDEDE","#000000","#DFC9AA","#6AC2B6","#F8D59D","#A9F2EA","#FCFCFC","#808080","#FDEBD7"]},
 "legend": {"title": null, "orient": "none", "legendX": 1361, "legendY": 198, "symbolSize": 220,
  "labelFont": "Liberation Sans", "labelFontSize": 26, "labelColor": "#000000", "labelOffset": 2,
  "rowPadding": 19.5, "symbolStrokeWidth": 0.8, "padding": 0}},
"stroke": {"field": "s", "type": "nominal",
 "scale": {"domain": ["120 um1","240um1","80um1","70um1","120um2","80um2","70um2","120um3","240um3","80um3","70um3"],
  "range": ["#DFB97C","#8FE0D5","#DEDEDE","#000000","#DFC9AA","#6AC2B6","#F8D59D","#A9F2EA","#E2E2E2","#808080","#FBE2C6"]}},
"shape": {"field": "s", "type": "nominal",
 "scale": {"domain": ["120 um1","240um1","80um1","70um1","120um2","80um2","70um2","120um3","240um3","80um3","70um3"],
  "range": ["M0,-0.95L0.95,0L0,0.95L-0.95,0Z",
   "M-0.88,-0.88H0.88V0.88H-0.88Z",
   "M0,-0.8L1,0.8L-1,0.8Z",
   "M-0.82,-0.7L-0.7,-0.82L0.82,0.7L0.7,0.82Z M0.7,-0.82L0.82,-0.7L-0.7,0.82L-0.82,0.7Z",
   "M-0.07,-0.85H0.07V0.85H-0.07Z M-0.74,-0.64L-0.64,-0.74L0.74,0.64L0.64,0.74Z M0.64,-0.74L0.74,-0.64L-0.64,0.74L-0.74,0.64Z",
   "M-0.9,0A0.9,0.9,0,1,0,0.9,0A0.9,0.9,0,1,0,-0.9,0Z",
   "M-0.72,-0.09H0.72V0.09H-0.72Z M-0.09,-0.72H0.09V0.72H-0.09Z",
   "M-0.15,-0.28H1.15V0.28H-0.15Z",
   "M-1.1,-0.24H1.1V0.24H-1.1Z",
   "M0,-0.95L0.95,0L0,0.95L-0.95,0Z",
   "M-0.88,-0.88H0.88V0.88H-0.88Z"]}}
}
}
